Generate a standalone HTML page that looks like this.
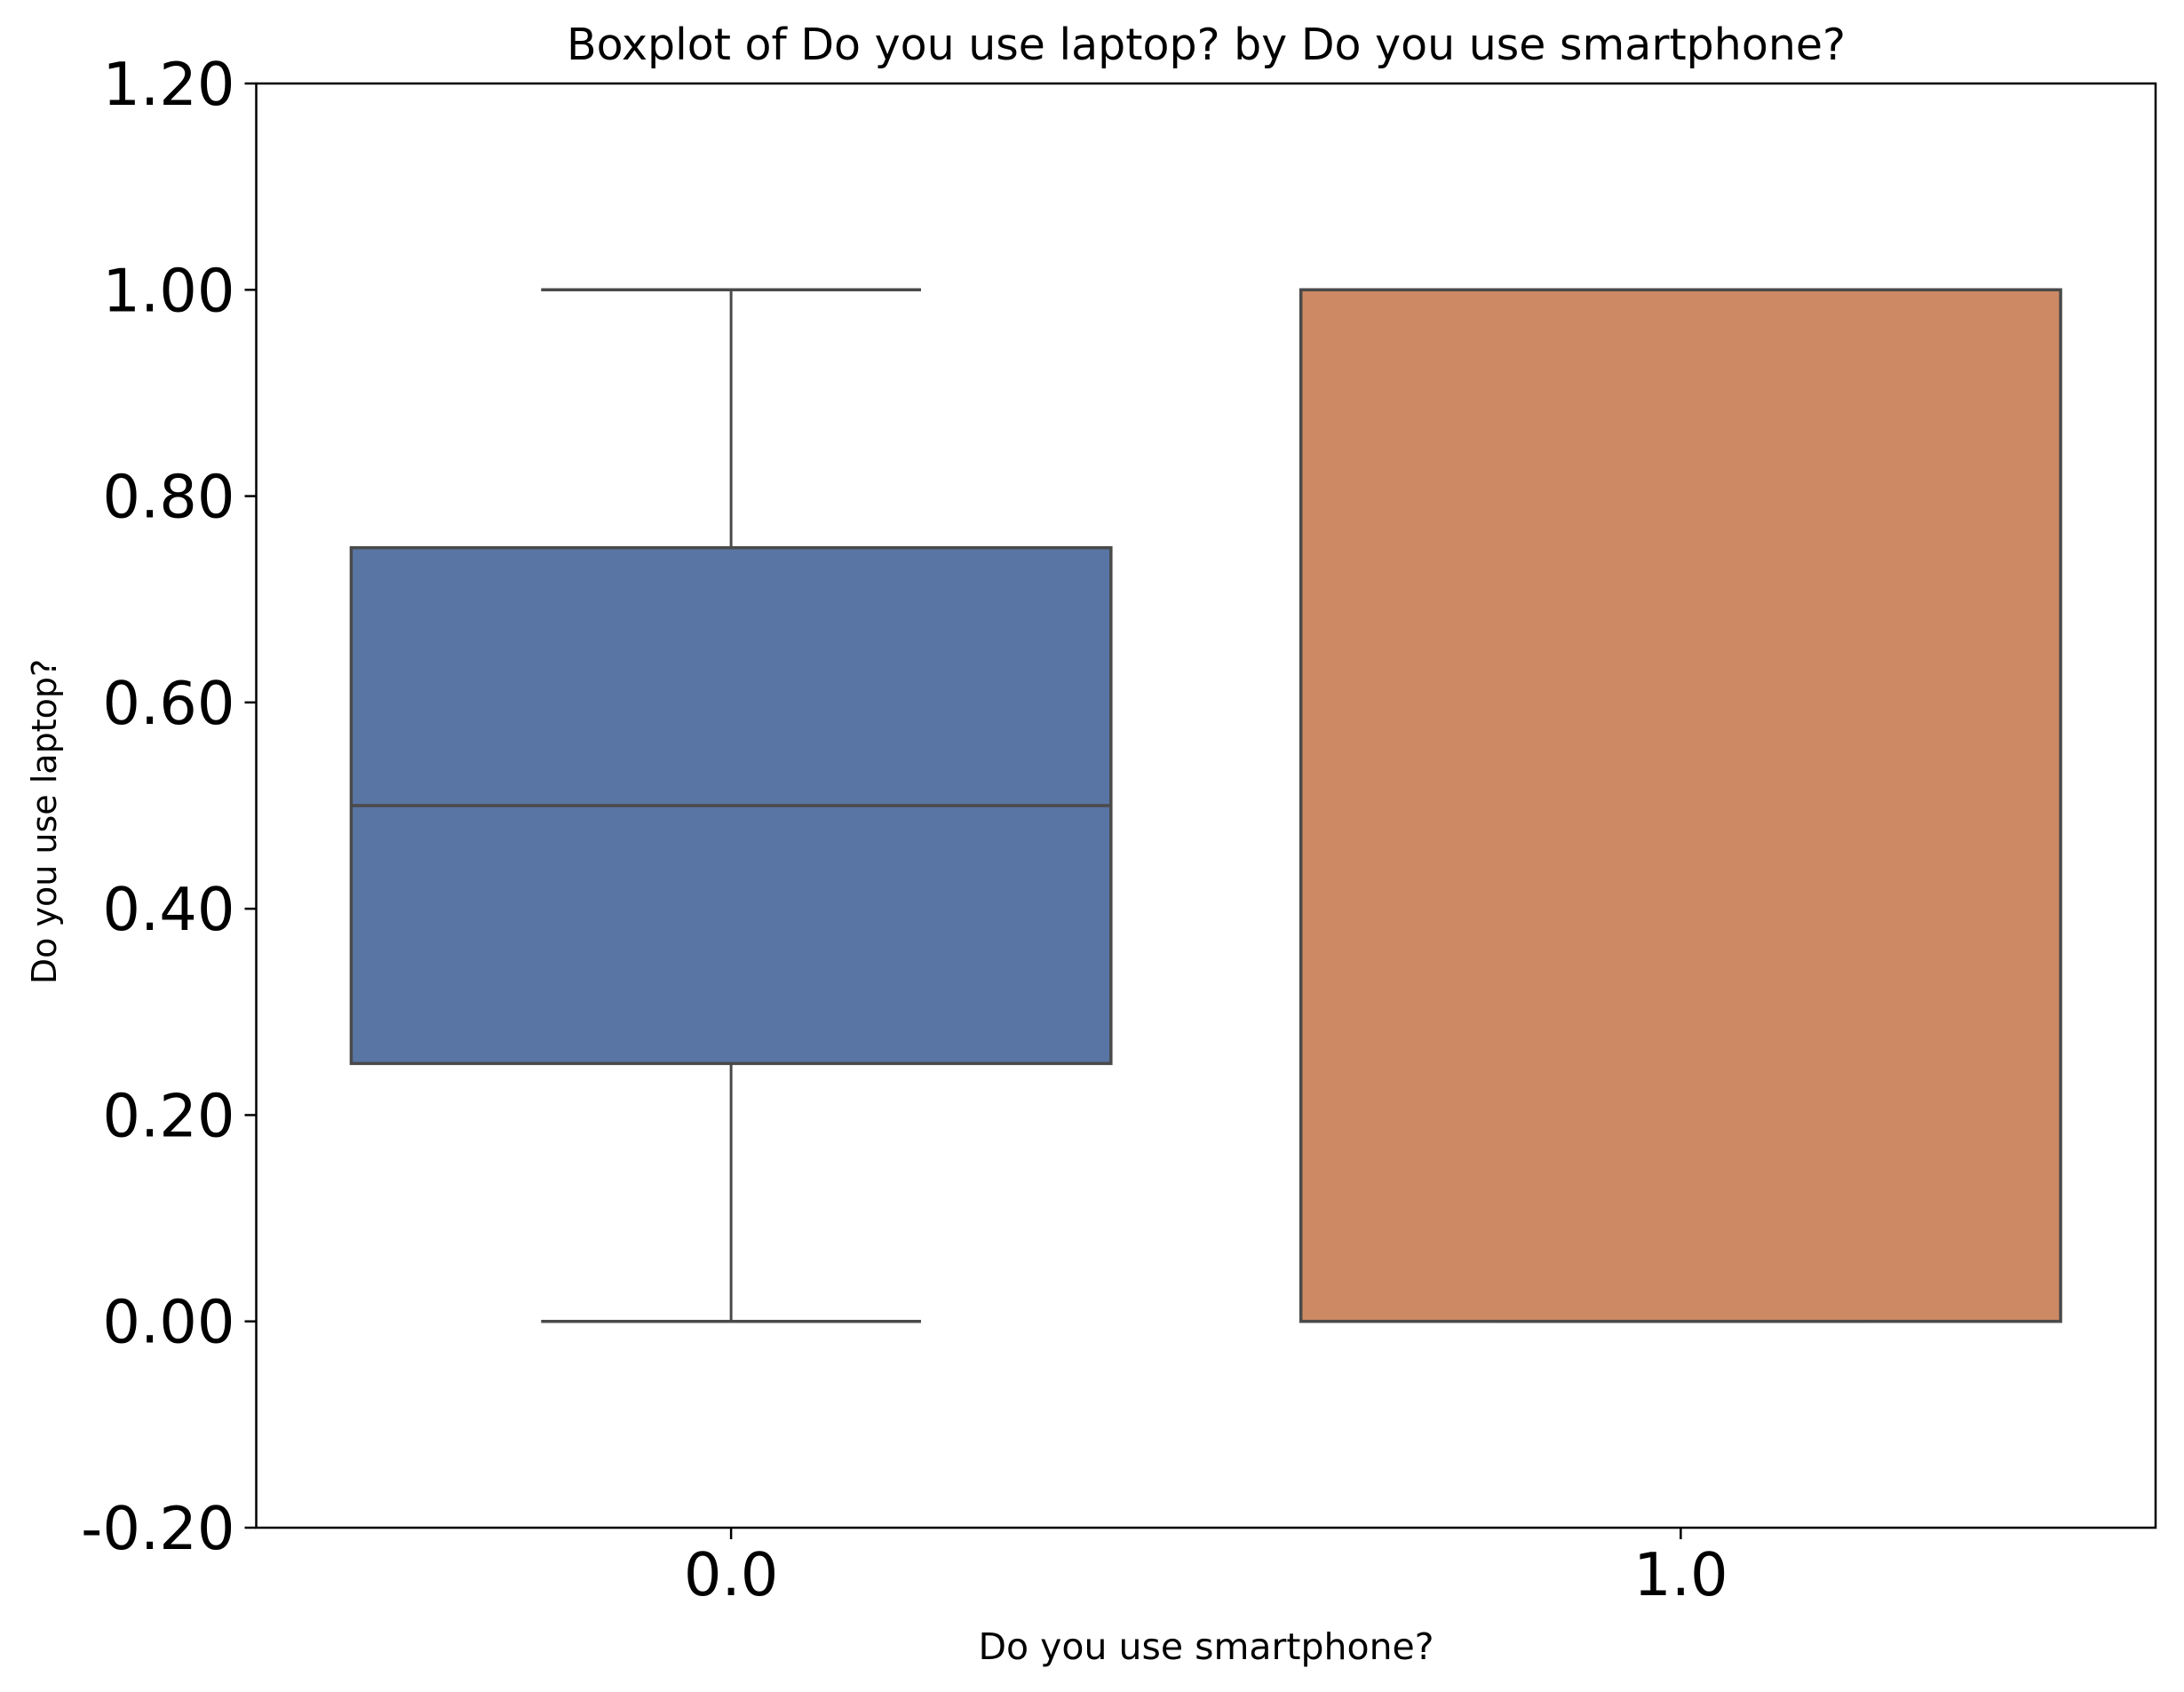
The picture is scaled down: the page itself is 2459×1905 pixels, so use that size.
<!DOCTYPE html>
<html><head><meta charset="utf-8"><style>
html,body{margin:0;padding:0;background:#fff}
svg{display:block}
text{font-family:"DejaVu Sans","Liberation Sans",sans-serif;fill:#000}
</style></head><body>
<svg id="chart" width="2459" height="1905" viewBox="0 0 2459 1905" xmlns="http://www.w3.org/2000/svg">
<rect width="2459" height="1905" fill="#fff"/>
<text x="1358" y="67" font-size="49" text-anchor="middle">Boxplot of Do you use laptop? by Do you use smartphone?</text>
<text x="1358" y="1868" font-size="41" text-anchor="middle">Do you use smartphone?</text>
<text transform="translate(63,925) rotate(-90)" font-size="38" text-anchor="middle">Do you use laptop?</text>
<g id="marks"></g>
<g id="axes"></g>
</svg>
<script>
const categories = ["0.0", "1.0"];
const whiskerLow = [0, 0];
const q1Values = [0.25, 0];
const medianValues = [0.5, 1];
const q3Values = [0.75, 1];
const whiskerHigh = [1, 1];
const boxColors = ["#5975a4", "#cc8963"];
const yTicks = [-0.2, 0, 0.2, 0.4, 0.6, 0.8, 1.0, 1.2];
const yTickLabels = ["-0.20", "0.00", "0.20", "0.40", "0.60", "0.80", "1.00", "1.20"];

const L = 288.5, R = 2427, T = 94, B = 1720;
const yMin = -0.2, yMax = 1.2;
const xScale = i => L + (i + 0.5) / categories.length * (R - L);
const yScale = v => B - (v - yMin) / (yMax - yMin) * (B - T);
const band = (R - L) / categories.length;
const NS = "http://www.w3.org/2000/svg";
function mk(tag, attrs, parent) {
  const e = document.createElementNS(NS, tag);
  for (const k in attrs) e.setAttribute(k, attrs[k]);
  parent.appendChild(e);
  return e;
}
const marks = document.getElementById("marks");
const axes = document.getElementById("axes");
const edge = "#4a4a4a";
categories.forEach((c, i) => {
  const cx = xScale(i), bw = band * 0.8, cw = band * 0.4;
  const g = mk("g", {}, marks);
  
  
  const w1 = mk("line", {x1: cx, x2: cx, y1: yScale(q1Values[i]), y2: yScale(whiskerLow[i]), stroke: edge, "stroke-width": 3}, g);
  
  
  const w2 = mk("line", {x1: cx, x2: cx, y1: yScale(q3Values[i]), y2: yScale(whiskerHigh[i]), stroke: edge, "stroke-width": 3}, g);
  
  
  const c1 = mk("line", {x1: cx - cw / 2, x2: cx + cw / 2, y1: yScale(whiskerLow[i]), y2: yScale(whiskerLow[i]), stroke: edge, "stroke-width": 3.5}, g);
  
  
  const c2 = mk("line", {x1: cx - cw / 2, x2: cx + cw / 2, y1: yScale(whiskerHigh[i]), y2: yScale(whiskerHigh[i]), stroke: edge, "stroke-width": 3.5}, g);
  
  
  const r = mk("rect", {x: cx - bw / 2, y: yScale(q3Values[i]), width: bw, height: yScale(q1Values[i]) - yScale(q3Values[i]), fill: boxColors[i], stroke: edge, "stroke-width": 3.5}, g);
  
  
  const m = mk("line", {x1: cx - bw / 2, x2: cx + bw / 2, y1: yScale(medianValues[i]), y2: yScale(medianValues[i]), stroke: edge, "stroke-width": 3.5}, g);
  
  
  const t = mk("line", {x1: cx, x2: cx, y1: B, y2: B + 13, stroke: "#000", "stroke-width": 2.5}, axes);
  
  
  const lb = mk("text", {x: cx, y: B + 76, "font-size": 67, "text-anchor": "middle"}, axes);
  lb.textContent = c;
  
  
});
yTicks.forEach((v, i) => {
  const y = yScale(v);
  const t = mk("line", {x1: L - 13, x2: L, y1: y, y2: y, stroke: "#000", "stroke-width": 2.5}, axes);
  
  
  const lb = mk("text", {x: L - 24, y: y + 24, "font-size": 67, "text-anchor": "end"}, axes);
  lb.textContent = yTickLabels[i];
  
  
});
const frame = mk("rect", {x: L, y: T, width: R - L, height: B - T, fill: "none", stroke: "#000", "stroke-width": 2.5}, axes);


</script>
</body></html>
